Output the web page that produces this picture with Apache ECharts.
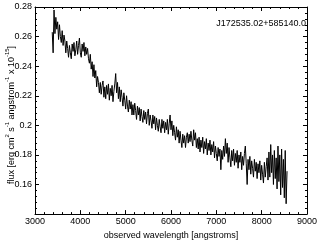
<!DOCTYPE html>
<html>
<head>
<meta charset="utf-8">
<script src="https://cdn.jsdelivr.net/npm/echarts@6/dist/echarts.min.js"></script>
<style>html,body{margin:0;padding:0;background:#fff;}#c{width:320px;height:245px;}</style>
</head>
<body>
<div id="c"></div>
<script>
// Spectrum sampling grid (angstroms)
const waveStart = 3380;
const waveStep = 20;
// Flux values (x 1e-15 erg cm^-2 s^-1 A^-1)
const flux = [
0.263,0.249,0.278,0.262,0.273,0.265,0.270,0.258,0.268,0.260,
0.256,0.264,0.254,0.261,0.257,0.249,0.257,0.252,0.246,0.254,
0.249,0.245,0.255,0.250,0.256,0.247,0.251,0.257,0.248,0.254,
0.259,0.249,0.246,0.255,0.250,0.256,0.247,0.253,0.248,0.252,
0.245,0.242,0.248,0.238,0.243,0.233,0.241,0.232,0.237,0.226,
0.233,0.229,0.222,0.229,0.221,0.227,0.230,0.219,0.226,0.218,
0.227,0.221,0.228,0.217,0.225,0.220,0.227,0.216,0.223,0.228,
0.235,0.222,0.229,0.218,0.226,0.216,0.224,0.219,0.213,0.222,
0.217,0.211,0.220,0.213,0.209,0.217,0.211,0.216,0.207,0.214,
0.207,0.215,0.210,0.204,0.213,0.207,0.212,0.203,0.211,0.206,
0.202,0.210,0.204,0.209,0.201,0.208,0.211,0.200,0.207,0.203,
0.198,0.207,0.201,0.206,0.197,0.205,0.200,0.196,0.204,0.199,
0.195,0.204,0.198,0.203,0.195,0.202,0.197,0.204,0.194,0.201,
0.207,0.197,0.203,0.193,0.200,0.195,0.190,0.199,0.192,0.197,
0.188,0.196,0.190,0.185,0.194,0.188,0.193,0.185,0.192,0.195,
0.188,0.194,0.189,0.196,0.190,0.186,0.197,0.190,0.195,0.185,
0.191,0.184,0.192,0.182,0.190,0.185,0.192,0.181,0.189,0.184,
0.191,0.180,0.188,0.183,0.190,0.180,0.187,0.182,0.189,0.178,
0.186,0.181,0.176,0.185,0.179,0.184,0.170,0.183,0.177,0.186,
0.179,0.191,0.181,0.188,0.175,0.185,0.178,0.172,0.183,0.176,
0.184,0.173,0.181,0.175,0.183,0.171,0.180,0.175,0.182,0.170,
0.179,0.173,0.181,0.186,0.174,0.160,0.177,0.170,0.179,0.167,
0.176,0.171,0.165,0.177,0.169,0.175,0.164,0.174,0.168,0.176,
0.163,0.173,0.167,0.161,0.175,0.165,0.172,0.178,0.163,0.182,
0.165,0.187,0.168,0.180,0.160,0.183,0.164,0.178,0.157,0.186,
0.162,0.180,0.153,0.184,0.158,0.177,0.151,0.183,0.147,0.169
];
const xTicks = {min: 3000, max: 9000, interval: 1000};
const yTicks = {min: 0.14, max: 0.28, interval: 0.02};
const objectName = 'J172535.02+585140.0';
const xTitle = 'observed wavelength [angstroms]';

const data = flux.map((f, i) => [waveStart + i * waveStep, f]);

const font = 'Liberation Sans, Arial, Helvetica, sans-serif';
const axisCommon = {
  axisLine: {show: true, lineStyle: {color: '#000', width: 1}},
  axisTick: {show: true, inside: true, length: 4, lineStyle: {color: '#000'}},
  minorTick: {show: true, splitNumber: 5, length: 2, lineStyle: {color: '#000'}},
  splitLine: {show: false},
};
const chart = echarts.init(document.getElementById('c'), null, {renderer: 'canvas'});
chart.setOption({
  animation: false,
  backgroundColor: '#fff',
  grid: {left: 35, right: 12, top: 7, bottom: 23, containLabel: false},
  xAxis: [
    Object.assign({type: 'value', position: 'bottom', min: xTicks.min, max: xTicks.max, interval: xTicks.interval,
      name: xTitle, nameLocation: 'middle', nameGap: 12,
      nameTextStyle: {fontFamily: font, fontSize: 9, color: '#000'},
      axisLabel: {fontFamily: font, fontSize: 9, color: '#000', margin: 3, formatter: v => String(v)}}, axisCommon),
    Object.assign({type: 'value', position: 'top', min: xTicks.min, max: xTicks.max, interval: xTicks.interval,
      axisLabel: {show: false}}, axisCommon)
  ],
  yAxis: [
    Object.assign({type: 'value', position: 'left', min: yTicks.min, max: yTicks.max, interval: yTicks.interval,
      axisLabel: {fontFamily: font, fontSize: 9, color: '#000', margin: 3, showMinLabel: false}}, axisCommon),
    Object.assign({type: 'value', position: 'right', min: yTicks.min, max: yTicks.max, interval: yTicks.interval,
      axisLabel: {show: false}}, axisCommon)
  ],
  graphic: [
    {type: 'text', x: 10, y: 115, rotation: Math.PI / 2,
      style: {
        text: '{n|flux [erg cm}{s|2}{n| s}{s|-1}{n| angstrom}{s|-1}{n| x 10}{s|-15}{n|]}',
        align: 'center', verticalAlign: 'middle',
        rich: {
          n: {fontFamily: font, fontSize: 9, fill: '#000', lineHeight: 12, verticalAlign: 'bottom'},
          s: {fontFamily: font, fontSize: 6, fill: '#000', lineHeight: 12, verticalAlign: 'top'}
        }
      }},
    {type: 'text', x: 306, y: 24,
      style: {text: objectName, fontFamily: font, fontSize: 9, fill: '#000', align: 'right', verticalAlign: 'middle'}}
  ],
  series: [{
    type: 'line', data: data, showSymbol: false, symbol: 'none',
    lineStyle: {color: '#000', width: 1}, xAxisIndex: 0, yAxisIndex: 0
  }]
});
</script>
</body>
</html>
